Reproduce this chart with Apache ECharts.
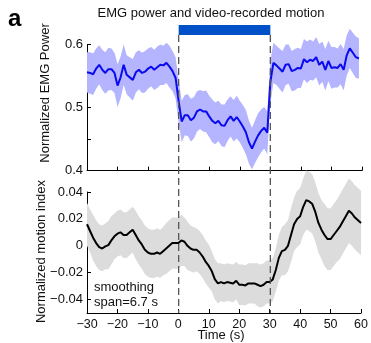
<!DOCTYPE html>
<html>
<head>
<meta charset="utf-8">
<script src="https://cdn.jsdelivr.net/npm/echarts@6/dist/echarts.min.js"></script>
<style>
  html, body { margin: 0; padding: 0; background: #fff; }
  #chart { width: 371px; height: 343px; }
</style>
</head>
<body>
<div id="chart"></div>
<script>
// time in seconds, stimulus from 0 to 30 s
var time = [-30, -29, -28, -27, -26, -25, -24, -23, -22, -21,
  -20, -19, -18, -17, -16, -15, -14, -13, -12, -11,
  -10, -9, -8, -7, -6, -5, -4, -3, -2, -1,
  0, 1, 2, 3, 4, 5, 6, 7, 8, 9,
  10, 11, 12, 13, 14, 15, 16, 17, 18, 19,
  20, 21, 22, 23, 24, 25, 26, 27, 28, 29,
  30, 31, 32, 33, 34, 35, 36, 37, 38, 39,
  40, 41, 42, 43, 44, 45, 46, 47, 48, 49,
  50, 51, 52, 53, 54, 55, 56, 57, 58, 59, 60];

// normalized EMG power (mean), -30..59 s
var emgMean = [0.556, 0.555, 0.553, 0.562, 0.568, 0.560, 0.555, 0.561, 0.561, 0.555,
  0.535, 0.548, 0.568, 0.552, 0.548, 0.544, 0.556, 0.560, 0.555, 0.557,
  0.562, 0.565, 0.560, 0.564, 0.568, 0.567, 0.571, 0.565, 0.558, 0.547,
  0.510, 0.478, 0.488, 0.488, 0.480, 0.484, 0.494, 0.497, 0.494, 0.494,
  0.486, 0.479, 0.475, 0.479, 0.472, 0.471, 0.480, 0.486, 0.479, 0.485,
  0.478, 0.470, 0.461, 0.445, 0.435, 0.446, 0.456, 0.463, 0.468, 0.460,
  0.540, 0.571, 0.567, 0.562, 0.557, 0.568, 0.569, 0.558, 0.560, 0.563,
  0.562, 0.577, 0.572, 0.576, 0.574, 0.580, 0.568, 0.573, 0.560, 0.574,
  0.563, 0.564, 0.563, 0.569, 0.560, 0.583, 0.594, 0.587, 0.580, 0.578];

// half width of the shaded EMG band
var emgErr = [0.032, 0.033, 0.033, 0.032, 0.031, 0.032, 0.033, 0.034, 0.033, 0.032,
  0.034, 0.033, 0.032, 0.031, 0.032, 0.033, 0.032, 0.031, 0.032, 0.033,
  0.032, 0.031, 0.032, 0.033, 0.032, 0.031, 0.032, 0.033, 0.032, 0.033,
  0.034, 0.033, 0.032, 0.033, 0.034, 0.033, 0.032, 0.031, 0.032, 0.033,
  0.033, 0.034, 0.033, 0.032, 0.033, 0.034, 0.033, 0.032, 0.033, 0.034,
  0.033, 0.034, 0.035, 0.034, 0.033, 0.034, 0.035, 0.034, 0.033, 0.034,
  0.034, 0.032, 0.031, 0.032, 0.033, 0.032, 0.031, 0.032, 0.033, 0.032,
  0.031, 0.032, 0.033, 0.032, 0.031, 0.032, 0.033, 0.032, 0.033, 0.032,
  0.033, 0.032, 0.031, 0.032, 0.033, 0.032, 0.031, 0.032, 0.033, 0.032];

// normalized motion index (mean), -30..60 s
var motionMean = [0.016, 0.011, 0.006, 0.002, -0.001, -0.002, -0.0005, 0.0005, 0.004, 0.007,
  0.009, 0.010, 0.008, 0.008, 0.010, 0.012, 0.008, 0.004, 0.001, -0.003,
  -0.005, -0.006, -0.006, -0.005, -0.006, -0.004, -0.002, 0.000, 0.002, 0.002,
  0.002, 0.004, 0.003, 0.000, -0.002, -0.003, -0.003, -0.005, -0.008, -0.012,
  -0.015, -0.019, -0.025, -0.028, -0.027, -0.028, -0.027, -0.0275, -0.028, -0.026,
  -0.029, -0.029, -0.0295, -0.028, -0.028, -0.028, -0.029, -0.030, -0.029, -0.027,
  -0.027, -0.025, -0.018, -0.009, -0.004, -0.003, 0.000, 0.008, 0.016, 0.020,
  0.022, 0.029, 0.034, 0.033, 0.031, 0.025, 0.017, 0.012, 0.008, 0.005,
  0.005, 0.008, 0.011, 0.014, 0.018, 0.022, 0.026, 0.024, 0.021, 0.019, 0.017];

// half width of the grey motion band
var motionErr = [0.016, 0.016, 0.017, 0.017, 0.017, 0.017, 0.017, 0.018, 0.018, 0.017,
  0.017, 0.017, 0.017, 0.017, 0.017, 0.017, 0.018, 0.018, 0.018, 0.018,
  0.018, 0.018, 0.018, 0.018, 0.018, 0.018, 0.019, 0.019, 0.019, 0.019,
  0.019, 0.019, 0.018, 0.018, 0.017, 0.017, 0.016, 0.016, 0.016, 0.016,
  0.016, 0.015, 0.015, 0.015, 0.014, 0.014, 0.014, 0.014, 0.014, 0.014,
  0.015, 0.015, 0.015, 0.015, 0.015, 0.015, 0.016, 0.016, 0.016, 0.016,
  0.016, 0.016, 0.016, 0.017, 0.018, 0.019, 0.019, 0.020, 0.020, 0.021,
  0.021, 0.021, 0.022, 0.022, 0.022, 0.022, 0.022, 0.022, 0.023, 0.023,
  0.023, 0.023, 0.023, 0.024, 0.024, 0.024, 0.024, 0.024, 0.024, 0.024, 0.024];

var emgTicks = [0.4, 0.45, 0.5, 0.55, 0.6];
var emgLabels = [0.4, 0.5, 0.6];
var motionTicks = [-0.04, -0.02, 0, 0.02, 0.04];

// stimulus window (s) and the EMG-axis values where the bar / dashed lines sit
var stimOn = [0, 30];
var barTop = 0.6311, barBottom = 0.6152, dashBottom = 0.1741;

var FONT = '"Liberation Sans", Arial, Helvetica, sans-serif';

function pairs(arr) {
  return arr.map(function (v, i) { return [time[i], v]; });
}
function minus(s) {
  return String(s).replace('-', '\u2212');
}

// shaded band polygon: upper edge forward, lower edge back
function bandRender(mean, err, color) {
  return function (params, api) {
    var pts = [];
    for (var i = 0; i < mean.length; i++) pts.push(api.coord([time[i], mean[i] + err[i]]));
    for (var j = mean.length - 1; j >= 0; j--) pts.push(api.coord([time[j], mean[j] - err[j]]));
    return { type: 'polygon', shape: { points: pts }, style: { fill: color } };
  };
}

var chart = echarts.init(document.getElementById('chart'));

var axisCommon = {
  axisLine: { show: true, onZero: false, lineStyle: { color: '#000', width: 1 } },
  axisTick: { show: true, inside: true, length: 4, lineStyle: { color: '#000' } },
  splitLine: { show: false }
};

var option = {
  animation: false,
  backgroundColor: '#fff',
  grid: [
    { left: 87, top: 44.6, width: 275, height: 126 },
    { left: 87, top: 192, width: 275, height: 121 }
  ],
  xAxis: [
    Object.assign({}, axisCommon, {
      type: 'value', gridIndex: 0, min: -30, max: 60, interval: 10,
      axisLabel: { show: false }
    }),
    Object.assign({}, axisCommon, {
      type: 'value', gridIndex: 1, min: -30, max: 60, interval: 10,
      axisLabel: {
        show: true, margin: 5, color: '#111', fontFamily: FONT, fontSize: 12.5,
        formatter: function (v) { return minus(v); }
      }
    })
  ],
  yAxis: [
    Object.assign({}, axisCommon, {
      type: 'value', gridIndex: 0, min: 0.4, max: 0.6,
      axisTick: { show: true, inside: true, length: 4, lineStyle: { color: '#000' }, customValues: emgTicks },
      axisLabel: {
        show: true, margin: 4, color: '#111', fontFamily: FONT, fontSize: 13,
        customValues: emgLabels,
        formatter: function (v) { return v.toFixed(1); }
      }
    }),
    Object.assign({}, axisCommon, {
      type: 'value', gridIndex: 1, min: -0.05, max: 0.04,
      axisTick: { show: true, inside: true, length: 4, lineStyle: { color: '#000' }, customValues: motionTicks },
      axisLabel: {
        show: true, margin: 4, color: '#111', fontFamily: FONT, fontSize: 13,
        customValues: motionTicks,
        formatter: function (v) { return Math.abs(v) < 1e-9 ? '0' : minus(v.toFixed(2)); }
      }
    })
  ],
  series: [
    {
      name: 'emgBand', type: 'custom', xAxisIndex: 0, yAxisIndex: 0,
      data: [[0]], clip: false, silent: true, z: 1,
      renderItem: bandRender(emgMean, emgErr, 'rgb(180,180,255)')
    },
    {
      name: 'motBand', type: 'custom', xAxisIndex: 1, yAxisIndex: 1,
      data: [[0]], clip: false, silent: true, z: 1,
      renderItem: bandRender(motionMean, motionErr, 'rgb(220,220,220)')
    },
    {
      name: 'emg', type: 'line', xAxisIndex: 0, yAxisIndex: 0, z: 3,
      data: pairs(emgMean), symbol: 'none', silent: true, clip: false,
      lineStyle: { color: 'rgb(10,10,240)', width: 2 }
    },
    {
      name: 'motion', type: 'line', xAxisIndex: 1, yAxisIndex: 1, z: 3,
      data: pairs(motionMean), symbol: 'none', silent: true, clip: false,
      lineStyle: { color: '#000', width: 2 }
    },
    {
      // stimulus bar above the top panel
      name: 'stimBar', type: 'custom', xAxisIndex: 0, yAxisIndex: 0,
      data: [stimOn], clip: false, silent: true, z: 4,
      renderItem: function (params, api) {
        var a = api.coord([api.value(0), barTop]);
        var b = api.coord([api.value(1), barBottom]);
        return { type: 'rect', shape: { x: a[0], y: a[1], width: b[0] - a[0], height: b[1] - a[1] }, style: { fill: '#0050c8' } };
      }
    },
    {
      // dashed onset / offset lines through both panels
      name: 'stimLines', type: 'custom', xAxisIndex: 0, yAxisIndex: 0,
      data: stimOn.map(function (t) { return [t]; }), clip: false, silent: true, z: 5,
      renderItem: function (params, api) {
        var a = api.coord([api.value(0), barBottom]);
        var b = api.coord([api.value(0), dashBottom]);
        return {
          type: 'line', shape: { x1: a[0], y1: a[1], x2: b[0], y2: b[1] },
          style: { stroke: '#555', lineWidth: 1.3, lineDash: [7, 4] }
        };
      }
    }
  ],
  graphic: [
    { type: 'text', x: 8, y: 19.5, style: { text: 'a', font: 'bold 24px ' + FONT, fill: '#000', verticalAlign: 'middle' } },
    { type: 'text', x: 211, y: 13.8, style: { text: 'EMG power and video-recorded motion', font: '13px ' + FONT, fill: '#111', align: 'center', verticalAlign: 'middle' } },
    { type: 'text', x: 45.5, y: 93, rotation: Math.PI / 2, style: { text: 'Normalized EMG Power', font: '13px ' + FONT, fill: '#111', align: 'center', verticalAlign: 'middle' } },
    { type: 'text', x: 41.2, y: 251.5, rotation: Math.PI / 2, style: { text: 'Normalized motion index', font: '13px ' + FONT, fill: '#111', align: 'center', verticalAlign: 'middle' } },
    { type: 'text', x: 221, y: 335.5, style: { text: 'Time (s)', font: '13px ' + FONT, fill: '#111', align: 'center', verticalAlign: 'middle' } },
    { type: 'text', x: 94, y: 287.5, style: { text: 'smoothing', font: '13px ' + FONT, fill: '#111', verticalAlign: 'middle' } },
    { type: 'text', x: 94, y: 302.8, style: { text: 'span=6.7 s', font: '13px ' + FONT, fill: '#111', verticalAlign: 'middle' } }
  ]
};

chart.setOption(option);
</script>
</body>
</html>
